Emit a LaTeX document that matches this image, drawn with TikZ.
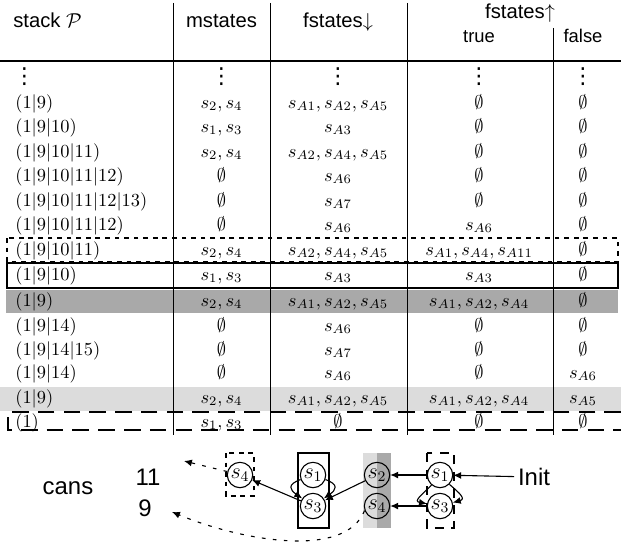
\documentclass[tikz,border=0pt]{standalone}
\usepackage{fontspec}
\setsansfont{Liberation Sans}
\newfontfamily\dejavu{DejaVu Sans}
\usetikzlibrary{arrows.meta}
\definecolor{bandDark}{RGB}{169,169,169}
\definecolor{bandLight}{RGB}{220,220,220}
\newcommand\tabrow[7]{%
  \node[cellL] (#1a) at (15,-#2) {$#3$};
  \node[cellC] (#1b) at (221.5,-#2) {$#4$};
  \node[cellC] (#1c) at (338,-#2) {$#5$};
  \node[cellC] (#1d) at (479,-#2) {$#6$};
  \node[cellC] (#1e) at (583,-#2) {$#7$};
}
\newcommand\vd{{\dejavu\fontsize{12}{14}\selectfont ⋮}}
\begin{document}
\begin{tikzpicture}[x=0.5435pt,y=0.5435pt,
  cellL/.style={anchor=base west,inner sep=0pt},
  cellC/.style={anchor=base,inner sep=0pt},
  hdr/.style={anchor=base,inner sep=0pt,font=\fontsize{11}{13}\selectfont\sffamily},
  subhdr/.style={anchor=base,inner sep=0pt,font=\sffamily},
  bigtxt/.style={inner sep=2pt,font=\fontsize{13}{15}\selectfont\sffamily},
  st/.style={circle,draw,line width=0.6pt,minimum size=13.8pt,inner sep=0pt,font=\fontsize{11.5}{13}\selectfont},
  arr/.style={-{Latex[length=4.3pt,width=3.8pt]},line width=0.6pt},
  dotarr/.style={-{Latex[length=4.3pt,width=3.8pt]},line width=0.6pt,dash pattern=on 2pt off 4pt},
  tline/.style={line width=0.5pt},
  shortdash/.style={line width=0.6pt,dash pattern=on 2.6pt off 2.6pt},
  longdash/.style={line width=0.6pt,dash pattern=on 9pt off 5pt}]
\useasboundingbox (0,0) rectangle (621,-544);
% row decorations
\fill[bandDark] (6,-290) rectangle (618,-313);
\fill[bandLight] (0,-387) rectangle (621,-411);
\draw[shortdash] (7,-238) rectangle (618,-262);
\draw[line width=0.8pt] (7,-263) rectangle (618,-288);
\draw[longdash] (621,-412) -- (8,-412) -- (8,-430) -- (621,-430);
% grid
\draw[tline] (173,-3) -- (173,-435);
\draw[tline] (270,-3) -- (270,-435);
\draw[tline] (407,-3) -- (407,-435);
\draw[tline] (553,-28) -- (553,-435);
\draw[line width=0.8pt] (0,-61) -- (621,-61);
% header
\node[hdr,anchor=base west] (hstack) at (13,-28) {stack $\mathcal{P}$};
\node[hdr] (hm) at (221.5,-28) {mstates};
\node[hdr] (hfd) at (338,-28) {fstates$\downarrow$};
\node[hdr] (hfu) at (520,-19) {fstates$\uparrow$};
\node[subhdr] (htrue) at (479,-43) {true};
\node[subhdr] (hfalse) at (583,-43) {false};
% dots row
\node[cellL] (r0a) at (13,-84) {\vd};
\node[cellC] (r0b) at (221.5,-84) {\vd};
\node[cellC] (r0c) at (338,-84) {\vd};
\node[cellC] (r0d) at (479,-84) {\vd};
\node[cellC] (r0e) at (583,-84) {\vd};
% rows
\tabrow{r1}{108}{(1|9)}{s_2,s_4}{s_{A1},s_{A2},s_{A5}}{\emptyset}{\emptyset}
\tabrow{r2}{132}{(1|9|10)}{s_1,s_3}{s_{A3}}{\emptyset}{\emptyset}
\tabrow{r3}{157}{(1|9|10|11)}{s_2,s_4}{s_{A2},s_{A4},s_{A5}}{\emptyset}{\emptyset}
\tabrow{r4}{181}{(1|9|10|11|12)}{\emptyset}{s_{A6}}{\emptyset}{\emptyset}
\tabrow{r5}{206}{(1|9|10|11|12|13)}{\emptyset}{s_{A7}}{\emptyset}{\emptyset}
\tabrow{r6}{230}{(1|9|10|11|12)}{\emptyset}{s_{A6}}{s_{A6}}{\emptyset}
\tabrow{r7}{255}{(1|9|10|11)}{s_2,s_4}{s_{A2},s_{A4},s_{A5}}{s_{A1},s_{A4},s_{A11}}{\emptyset}
\tabrow{r8}{280}{(1|9|10)}{s_1,s_3}{s_{A3}}{s_{A3}}{\emptyset}
\tabrow{r9}{306}{(1|9)}{s_2,s_4}{s_{A1},s_{A2},s_{A5}}{s_{A1},s_{A2},s_{A4}}{\emptyset}
\tabrow{r10}{331}{(1|9|14)}{\emptyset}{s_{A6}}{\emptyset}{\emptyset}
\tabrow{r11}{355}{(1|9|14|15)}{\emptyset}{s_{A7}}{\emptyset}{\emptyset}
\tabrow{r12}{378}{(1|9|14)}{\emptyset}{s_{A6}}{\emptyset}{s_{A6}}
\tabrow{r13}{403}{(1|9)}{s_2,s_4}{s_{A1},s_{A2},s_{A5}}{s_{A1},s_{A2},s_{A4}}{s_{A5}}
\tabrow{r14}{427}{(1)}{s_1,s_3}{\emptyset}{\emptyset}{\emptyset}
% bottom diagram: boxes
\fill[bandLight] (363,-453) rectangle (377,-528);
\fill[bandDark] (377,-453) rectangle (391,-528);
\draw[shortdash] (226,-453) rectangle (254,-496);
\draw[line width=0.6pt] (298,-453) rectangle (329,-528);
\draw[line width=0.6pt,dash pattern=on 5pt off 4pt] (427,-453) rectangle (454,-528);
% labels
\node[bigtxt] (cans) at (68,-488) {cans};
\node[bigtxt] (n11) at (148,-477) {11};
\node[bigtxt] (n9) at (145,-508) {9};
\node[bigtxt] (init) at (534,-477) {Init};
% states
\node[st] (L4) at (240,-475) {$s_4$};
\node[st] (M1) at (313,-475) {$s_1$};
\node[st] (M3) at (313,-506) {$s_3$};
\node[st] (G2) at (377,-475) {$s_2$};
\node[st] (G4) at (377,-506) {$s_4$};
\node[st] (R1) at (440,-475) {$s_1$};
\node[st] (R3) at (440,-506) {$s_3$};
\coordinate (c11) at (184,-461);
\coordinate (c9) at (172,-512);
% arrows
\draw[arr] (init) -- (R1);
\draw[arr] (R1) -- (G2);
\draw[arr] (R3) -- (G4);
\draw[arr] (G2) -- (M3);
\draw[arr] (M3) -- (L4);
\draw[arr] (M1.200) to[out=200,in=145,looseness=2] (M3.145);
\draw[arr] (M1.-20) to[out=-20,in=35,looseness=2] (M3.35);
\draw[arr] (R1.230) to[out=225,in=170,looseness=1.9] (R3.170);
\draw[arr] (R1.-45) to[out=-40,in=15,looseness=1.9] (R3.15);
\draw[dotarr] (L4.165) -- (c11);
\draw[dotarr] (G4.200) .. controls (345,-560) and (240,-540) .. (c9);
\end{tikzpicture}
\end{document}
